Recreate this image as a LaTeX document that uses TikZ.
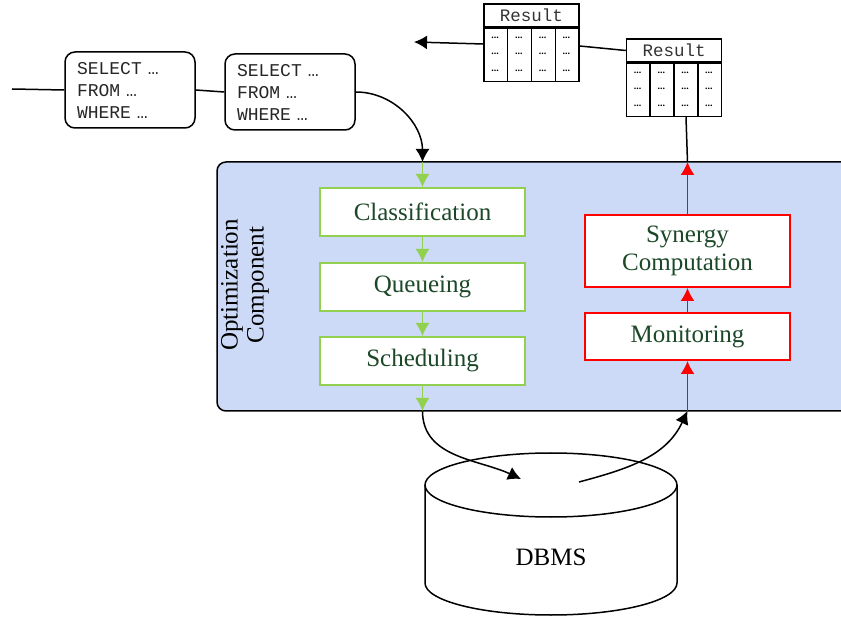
\documentclass[tikz,border=0pt]{standalone}
\usepackage{fontspec}
\setmainfont{Liberation Serif}
\setmonofont{Liberation Mono}
\usetikzlibrary{arrows.meta, calc, positioning}

\definecolor{panelblue}{RGB}{205,218,247}
\definecolor{boxgreen}{RGB}{146,208,80}
\definecolor{textgreen}{RGB}{28,72,40}

\tikzset{
  query/.style={draw, rounded corners=10pt, line width=1.5pt, text width=106pt, inner xsep=12pt,
    minimum height=76pt, align=left, font=\ttfamily\fontsize{18}{22}\selectfont, text=black!85},
  stepgreen/.style={draw=boxgreen, fill=white, line width=2pt, minimum width=205pt, minimum height=48pt,
    font=\fontsize{25}{28}\selectfont, text=textgreen, align=center},
  stepred/.style={stepgreen, draw=red},
  reshead/.style={draw, line width=1.5pt, minimum width=95pt, minimum height=23pt, inner sep=0pt,
    font=\ttfamily\fontsize{17.5}{18}\selectfont, text=black!80},
  resbody/.style={draw, line width=1.5pt, minimum width=95pt, minimum height=53pt, inner sep=0pt},
  flow/.style={-{Latex[length=13pt,width=14pt]}, line width=1.5pt},
  greenflow/.style={flow, boxgreen, line width=1.3pt},
  redflow/.style={flow, red, line width=1.3pt},
}

\begin{document}
\begin{tikzpicture}[x=1pt, y=1pt, line width=1.5pt]
  \useasboundingbox (0,0) rectangle (841,-617);

  % Optimization component
  \node[draw, fill=panelblue, rounded corners=9pt, minimum width=653pt, minimum height=249pt, inner sep=0pt] (opt) at (543.5,-286.5) {};
  \node[rotate=90, align=center, font=\fontsize{25}{26}\selectfont] (optlabel) at (245,-285) {Optimization\\Component};

  % Queries
  \coordinate (qin) at (12,-89);
  \node[query] (q1) at (130,-90) {SELECT …\\FROM …\\WHERE …};
  \node[query] (q2) at (290,-92) {SELECT …\\FROM …\\WHERE …};
  \draw (qin) -- (q1.west);
  \draw (q1.east) -- (q2.west);
  \coordinate (optin) at (422.5,-162);
  \draw[flow] (q2.east) to[out=0, in=90] (optin);

  % Green pipeline
  \node[stepgreen] (cls) at (422.5,-212) {Classification};
  \node[stepgreen] (que) at (422.5,-287) {Queueing};
  \node[stepgreen] (sch) at (422.5,-361) {Scheduling};
  \coordinate (optout) at (422.5,-411);
  \draw[greenflow] (optin) -- (cls.north);
  \draw[greenflow] (cls.south) -- (que.north);
  \draw[greenflow] (que.south) -- (sch.north);
  \draw[greenflow] (sch.south) -- (optout);

  % Red pipeline
  \node[stepred, minimum height=72pt] (syn) at (687.5,-251) {Synergy\\Computation};
  \node[stepred, minimum height=47pt] (mon) at (687.5,-336.5) {Monitoring};
  \coordinate (optret) at (687.5,-411);
  \coordinate (optup) at (687.5,-162);
  \draw[redflow] (optret) -- (mon.south);
  \draw[redflow] (mon.north) -- (syn.south);
  \draw[redflow] (syn.north) -- (optup);

  % DBMS
  \draw (425,-485) -- (425,-583) arc[start angle=180, end angle=360, x radius=126, y radius=32] -- (677,-485);
  \draw (551,-485) ellipse [x radius=126, y radius=32];
  \node[font=\fontsize{25}{28}\selectfont] (dbms) at (551,-557) {DBMS};
  \coordinate (dbin) at (521,-479);
  \coordinate (dbout) at (579,-482);
  \draw[flow] (optout) to[out=-90, in=155] (dbin);
  \draw[flow] (dbout) to[out=15, in=-115] (optret);

  % Results
  \node[reshead] (res1h) at (531.5,-15.5) {Result};
  \node[resbody, below=0pt of res1h] (res1b) {};
  \node[reshead] (res2h) at (674,-50.5) {Result};
  \node[resbody, below=0pt of res2h] (res2b) {};
  \foreach \t in {res1b,res2b} {
    \foreach \c in {1,2,3}
      \draw ($(\t.north west)!\c/4!(\t.north east)$) -- ($(\t.south west)!\c/4!(\t.south east)$);
    \foreach \c in {0,...,3}
      \foreach \r in {0,1,2}
        \node[font=\bfseries\fontsize{10}{10}\selectfont, inner sep=0pt] (\t-\c-\r) at ($(\t.north west)+(\c*23.75+11.9,-\r*16.5-10)$) {...};
  }
  \coordinate (resout) at (414,-42);
  \draw[flow] ([yshift=11pt]res1b.west) -- (resout);
  \draw (res2h.west) -- ([yshift=9pt]res1b.east);
  \draw (optup) -- ([xshift=12pt]res2b.south);
\end{tikzpicture}
\end{document}
